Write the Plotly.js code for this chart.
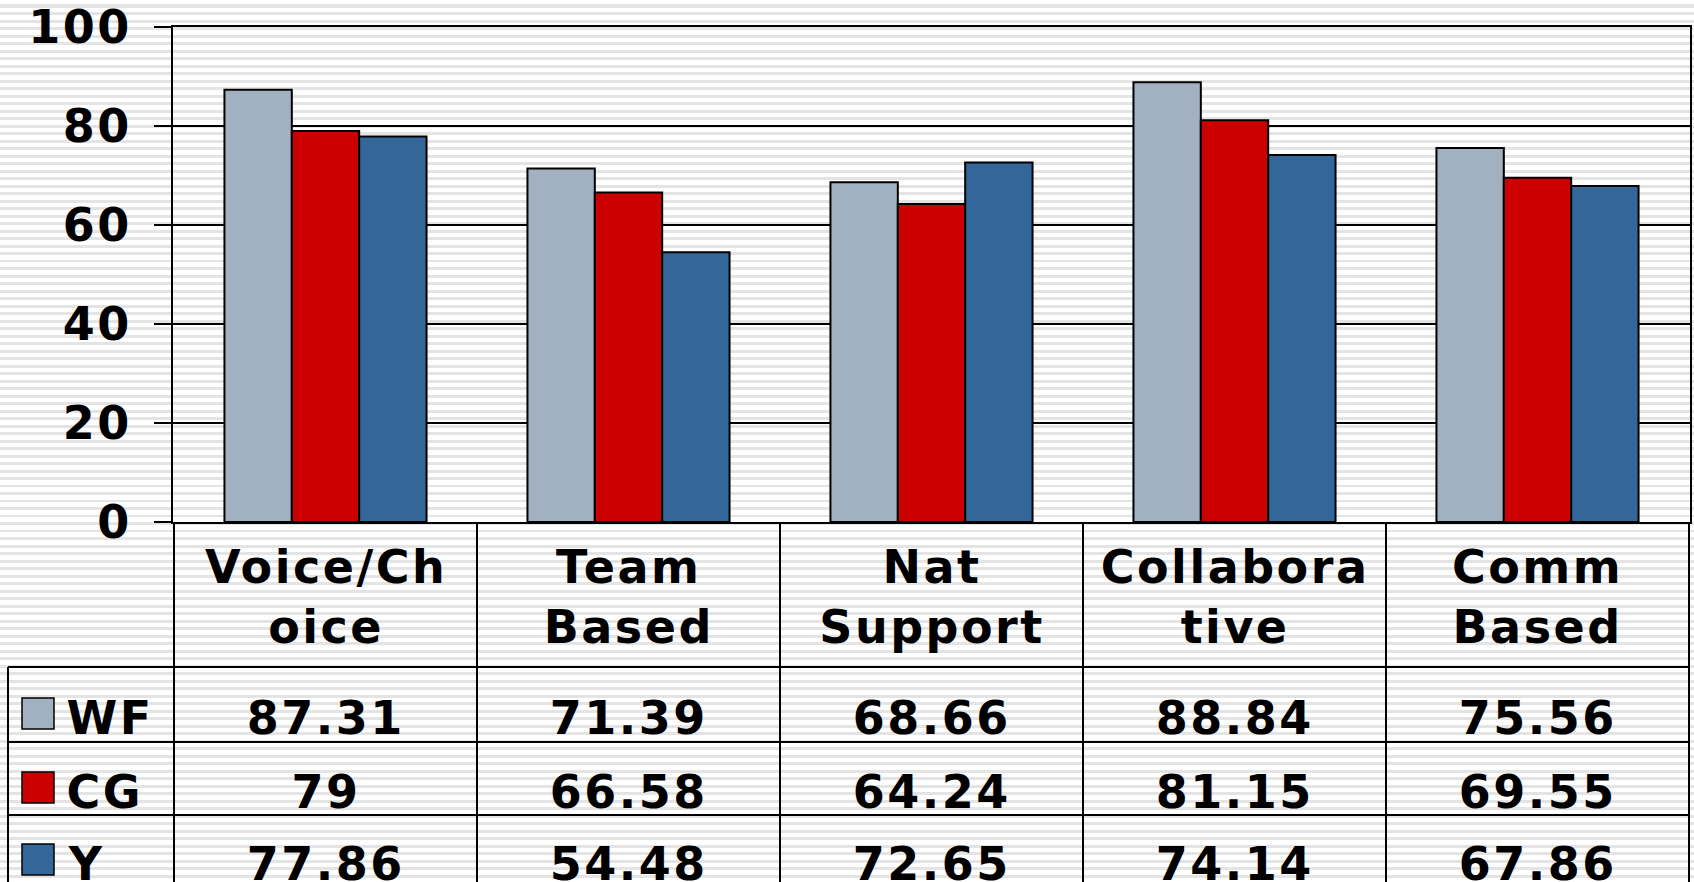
<!DOCTYPE html>
<html>
<head>
<meta charset="utf-8">
<script src="https://cdn.plot.ly/plotly-3.0.1.min.js"></script>
<style>
  html, body { margin: 0; padding: 0; }
  body {
    width: 1694px; height: 882px; overflow: hidden;
    background: repeating-linear-gradient(to bottom,
      #ffffff 0px, #ffffff 4.5px, #e4e4e4 4.5px, #e4e4e4 7.5px);
  }
  #chart { width: 1694px; height: 882px; }
  #chart svg text { letter-spacing: 2.5px; }
</style>
</head>
<body>
<div id="chart"></div>
<script>
const categories = ["Voice/Choice", "Team Based", "Nat Support", "Collaborative", "Comm Based"];
const categoryLabels = ["Voice/Ch<br>oice", "Team<br>Based", "Nat<br>Support", "Collabora<br>tive", "Comm<br>Based"];
const seriesNames = ["WF", "CG", "Y"];
const wfValues = [87.31, 71.39, 68.66, 88.84, 75.56];
const cgValues = [79, 66.58, 64.24, 81.15, 69.55];
const yValues = [77.86, 54.48, 72.65, 74.14, 67.86];
const valueLabels = [
  ["87.31", "71.39", "68.66", "88.84", "75.56"],
  ["79", "66.58", "64.24", "81.15", "69.55"],
  ["77.86", "54.48", "72.65", "74.14", "67.86"]
];
const seriesColors = ["#A2B1C1", "#CC0000", "#336699"];
const yTicks = [0, 20, 40, 60, 80, 100];

const W = 1694, H = 882;
const M = { l: 173, r: 4, t: 27, b: 360 };
const plotW = W - M.l - M.r, plotH = H - M.t - M.b;
const xp = px => (px - M.l) / plotW;
const yp = py => (H - M.b - py) / plotH;

const font = { family: "DejaVu Sans, Verdana, sans-serif", size: 46, color: "#000", weight: "bold" };

const seriesValues = [wfValues, cgValues, yValues];
const traces = seriesNames.map((name, i) => ({
  type: "bar",
  name: name,
  x: categories,
  y: seriesValues[i],
  marker: { color: seriesColors[i], line: { color: "#000", width: 2 } },
  hoverinfo: "x+y+name"
}));

const shapes = [];
const annotations = [];
const rowCenters = [713, 787, 859];
const textShift = 5;
const rowLines = [667, 742, 815];
const tableLeft = 8;
const bottom = 900;

// vertical column lines
for (let i = 0; i <= categories.length; i++) {
  shapes.push({ type: "line", xref: "x", yref: "paper", x0: i - 0.5, x1: i - 0.5,
    y0: 0, y1: yp(bottom), line: { color: "#000", width: 2 } });
}
// horizontal row lines
rowLines.forEach(py => {
  shapes.push({ type: "line", xref: "paper", yref: "paper", x0: xp(tableLeft), x1: 1,
    y0: yp(py), y1: yp(py), line: { color: "#000", width: 2 } });
});
// table left border
shapes.push({ type: "line", xref: "paper", yref: "paper", x0: xp(tableLeft), x1: xp(tableLeft),
  y0: yp(rowLines[0]), y1: yp(bottom), line: { color: "#000", width: 2 } });

// category labels
categoryLabels.forEach((lab, i) => {
  annotations.push({ xref: "x", yref: "paper", x: i, y: yp(597), text: lab, showarrow: false,
    xanchor: "center", yanchor: "middle", font: font });
});

// legend keys + values
seriesNames.forEach((name, r) => {
  const cy = rowCenters[r];
  shapes.push({ type: "rect", xref: "paper", yref: "paper", x0: xp(22), x1: xp(54),
    y0: yp(cy - 15), y1: yp(cy + 16), fillcolor: seriesColors[r], line: { color: "#000", width: 1.5 } });
  annotations.push({ xref: "paper", yref: "paper", x: xp(67), y: yp(cy + textShift), text: name, showarrow: false,
    xanchor: "left", yanchor: "middle", font: font });
  valueLabels[r].forEach((v, i) => {
    annotations.push({ xref: "x", yref: "paper", x: i, y: yp(cy + textShift), text: v, showarrow: false,
      xanchor: "center", yanchor: "middle", font: font });
  });
});

const layout = {
  width: W, height: H,
  margin: M,
  paper_bgcolor: "rgba(0,0,0,0)",
  plot_bgcolor: "rgba(0,0,0,0)",
  barmode: "group",
  bargap: 0.333,
  bargroupgap: 0,
  showlegend: false,
  xaxis: {
    type: "category",
    showline: true, linecolor: "#000", linewidth: 2, mirror: true,
    showticklabels: false, ticks: "", showgrid: false, zeroline: false
  },
  yaxis: {
    range: [0, 100], tickvals: yTicks, ticktext: yTicks.map(String),
    showline: true, linecolor: "#000", linewidth: 2, mirror: true,
    ticks: "outside", ticklen: 17, tickwidth: 2, tickcolor: "#000",
    ticklabelstandoff: 13,
    showgrid: true, gridcolor: "#000", gridwidth: 1.5, zeroline: false,
    tickfont: font
  },
  shapes: shapes,
  annotations: annotations
};

Plotly.newPlot("chart", traces, layout, { displayModeBar: false, staticPlot: false });
</script>
</body>
</html>
